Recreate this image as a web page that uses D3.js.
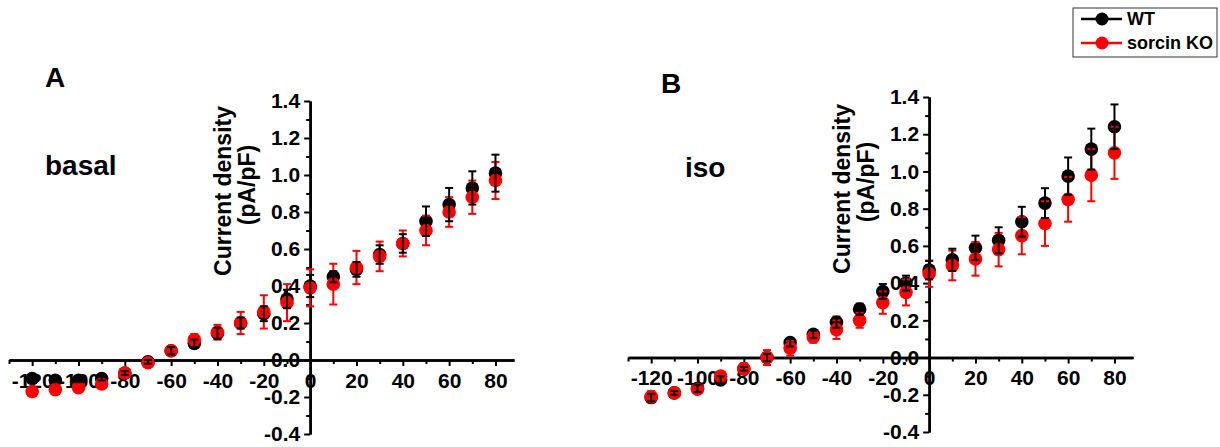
<!DOCTYPE html>
<head>
<meta charset="utf-8">
<style>
body { margin: 0; background: #fff; }
svg { font-family: "Liberation Sans", Arial, sans-serif; font-weight: bold; }
.axis path, .axis line { stroke: #000; }
.axis path { stroke-width: 2.5; }
.axis line { stroke-width: 2; }
.axis text { font-size: 21px; font-weight: bold; fill: #000; font-family: "Liberation Sans", Arial, sans-serif; }
</style>
<body>
<script src="https://cdn.jsdelivr.net/npm/d3@7"></script>
<script>

// test potentials (mV)
var voltages = [-120,-110,-100,-90,-80,-70,-60,-50,-40,-30,-20,-10,0,10,20,30,40,50,60,70,80];

// tick labels
var xTicks = [-120,-100,-80,-60,-40,-20,0,20,40,60,80];
var xMinor = [-130,-110,-90,-70,-50,-30,-10,10,30,50,70];
var yTicks = [-0.4,-0.2,0.0,0.2,0.4,0.6,0.8,1.0,1.2,1.4];
var yMinor = [-0.3,-0.1,0.1,0.3,0.5,0.7,0.9,1.1,1.3];

// panel A - basal
var basalWT    = [-0.10,-0.11,-0.11,-0.10,-0.07,-0.01,0.05,0.09,0.145,0.20,0.25,0.33,0.40,0.45,0.49,0.57,0.63,0.75,0.84,0.93,1.01];
var basalWTerr = [0.01,0.01,0.01,0.01,0.01,0.01,0.02,0.02,0.03,0.03,0.04,0.05,0.06,0.03,0.04,0.05,0.05,0.08,0.09,0.09,0.10];
var basalKO    = [-0.17,-0.16,-0.15,-0.13,-0.07,-0.015,0.05,0.11,0.15,0.20,0.26,0.31,0.39,0.41,0.50,0.56,0.63,0.70,0.80,0.88,0.97];
var basalKOerr = [0.02,0.02,0.02,0.02,0.02,0.02,0.02,0.03,0.04,0.06,0.09,0.10,0.10,0.11,0.09,0.08,0.07,0.08,0.08,0.09,0.10];

// panel B - iso
var isoWT    = [-0.215,-0.19,-0.165,-0.12,-0.06,0.0,0.08,0.125,0.19,0.26,0.355,0.40,0.47,0.525,0.59,0.63,0.73,0.83,0.975,1.12,1.24];
var isoWTerr = [0.02,0.01,0.02,0.02,0.01,0.02,0.02,0.02,0.03,0.03,0.04,0.04,0.05,0.06,0.065,0.07,0.08,0.08,0.10,0.11,0.12];
var isoKO    = [-0.21,-0.19,-0.17,-0.10,-0.06,0.0,0.05,0.11,0.15,0.20,0.295,0.35,0.45,0.495,0.53,0.58,0.655,0.72,0.85,0.98,1.10];
var isoKOerr = [0.03,0.02,0.02,0.02,0.03,0.04,0.04,0.03,0.05,0.04,0.06,0.07,0.07,0.08,0.09,0.09,0.10,0.12,0.12,0.14,0.14];

var seriesNames = ["WT", "sorcin KO"];
var seriesColors = ["#000000", "#ff0000"];

var svg = d3.select("body").append("svg")
    .attr("width", 1220)
    .attr("height", 447);

function fmt(d) { return d.toFixed(1); }

function drawPanel(p) {
    var x = d3.scaleLinear().domain([-130, 88]).range(p.xr);
    var y = d3.scaleLinear().domain([-0.4, 1.4]).range(p.yr);
    var g = svg.append("g");

    // minor ticks
    g.append("g").attr("class", "axis")
        .attr("transform", "translate(0," + y(0) + ")")
        .call(d3.axisBottom(x).tickValues(xMinor).tickSize(4).tickSizeOuter(0).tickFormat(""));
    g.append("g").attr("class", "axis")
        .attr("transform", "translate(" + x(0) + ",0)")
        .call(d3.axisLeft(y).tickValues(yMinor).tickSize(4).tickSizeOuter(0).tickFormat(""));

    // major ticks
    g.append("g").attr("class", "axis")
        .attr("transform", "translate(0," + y(0) + ")")
        .call(d3.axisBottom(x).tickValues(xTicks).tickSize(6).tickPadding(7).tickSizeOuter(0))
        .selectAll("text").text(function(d) { return String(d); });
    g.append("g").attr("class", "axis")
        .attr("transform", "translate(" + x(0) + ",0)")
        .call(d3.axisLeft(y).tickValues(yTicks).tickSize(6).tickPadding(4).tickSizeOuter(0).tickFormat(fmt));

    // y title
    var t = g.append("g")
        .attr("font-size", "23px");
    t.append("text")
        .attr("transform", "translate(" + (x(0) - 79) + "," + p.t1 + ") rotate(-90)")
        .attr("text-anchor", "middle")
        .text("Current density");
    t.append("text")
        .attr("transform", "translate(" + (x(0) - 55) + "," + p.t2 + ") rotate(-90)")
        .attr("text-anchor", "middle")
        .text("(pA/pF)");

    // panel letter & condition
    g.append("text").attr("x", p.lx).attr("y", p.ly).attr("font-size", "28px").text(p.letter);
    g.append("text").attr("x", p.cx).attr("y", p.cy).attr("font-size", "28px").text(p.cond);

    var sets = [
        {m: p.wt, e: p.wtErr, c: seriesColors[0]},
        {m: p.ko, e: p.koErr, c: seriesColors[1]}
    ];

    // circles
    sets.forEach(function(s) {
        g.append("g").selectAll("circle")
            .data(voltages)
            .join("circle")
            .attr("cx", function(v) { return x(v); })
            .attr("cy", function(v, i) { return y(s.m[i]); })
            .attr("r", 6.8)
            .attr("fill", s.c);
    });

    // error bars, red first then black on top
    [sets[1], sets[0]].forEach(function(s) {
        var eb = g.append("g").attr("stroke", s.c).attr("stroke-width", 2);
        eb.selectAll("line.v").data(voltages).join("line").attr("class", "v")
            .attr("x1", function(v) { return x(v); })
            .attr("x2", function(v) { return x(v); })
            .attr("y1", function(v, i) { return y(s.m[i] - s.e[i]); })
            .attr("y2", function(v, i) { return y(s.m[i] + s.e[i]); });
        eb.selectAll("line.top").data(voltages).join("line").attr("class", "top")
            .attr("x1", function(v) { return x(v) - 4; })
            .attr("x2", function(v) { return x(v) + 4; })
            .attr("y1", function(v, i) { return y(s.m[i] + s.e[i]); })
            .attr("y2", function(v, i) { return y(s.m[i] + s.e[i]); });
        eb.selectAll("line.bot").data(voltages).join("line").attr("class", "bot")
            .attr("x1", function(v) { return x(v) - 4; })
            .attr("x2", function(v) { return x(v) + 4; })
            .attr("y1", function(v, i) { return y(s.m[i] - s.e[i]); })
            .attr("y2", function(v, i) { return y(s.m[i] - s.e[i]); });
    });
}

drawPanel({xr: [9, 514], yr: [434, 101], t1: 191, t2: 185,
    letter: "A", lx: 45, ly: 87, cond: "basal", cx: 45, cy: 175,
    wt: basalWT, wtErr: basalWTerr, ko: basalKO, koErr: basalKOerr});

drawPanel({xr: [628, 1133], yr: [432, 97], t1: 189, t2: 182,
    letter: "B", lx: 661, ly: 93, cond: "iso", cx: 685, cy: 177,
    wt: isoWT, wtErr: isoWTerr, ko: isoKO, koErr: isoKOerr});

// legend
var leg = svg.append("g");
leg.append("rect")
    .attr("x", 1073).attr("y", 8).attr("width", 144).attr("height", 49)
    .attr("fill", "#fff").attr("stroke", "#333").attr("stroke-width", 1);
seriesNames.forEach(function(n, i) {
    var ly = 19 + i * 24;
    leg.append("line")
        .attr("x1", 1081).attr("x2", 1122).attr("y1", ly).attr("y2", ly)
        .attr("stroke", seriesColors[i]).attr("stroke-width", 2.5);
    leg.append("circle")
        .attr("cx", 1102).attr("cy", ly).attr("r", 6.5).attr("fill", seriesColors[i]);
    leg.append("text")
        .attr("x", 1127).attr("y", ly + 6)
        .attr("font-size", "18px")
        .text(n);
});

</script>
</body>
